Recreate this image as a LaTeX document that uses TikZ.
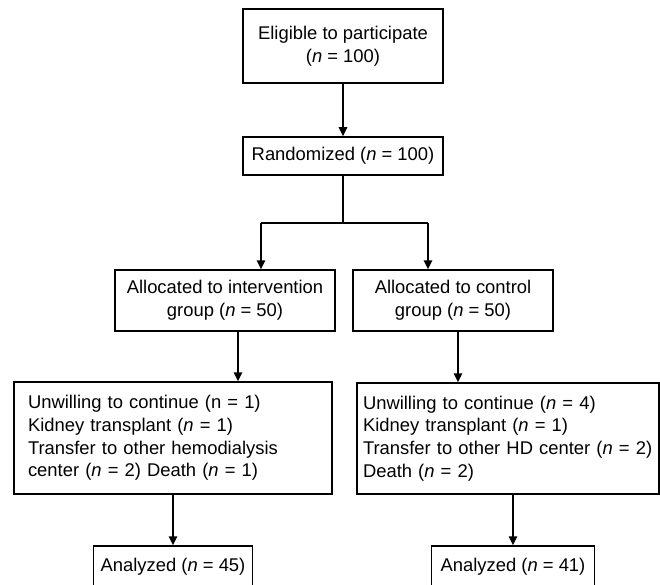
\documentclass[tikz,border=0pt]{standalone}
\usepackage{fontspec}
\setmainfont{Liberation Sans}
\usetikzlibrary{arrows.meta}

\tikzset{
	box/.style = {draw, line width = 1.5pt, inner sep = 0pt, align = center, font = \fontsize{18.4}{22.7}\selectfont},
	listbox/.style = {box, align = left},
	arrow/.style = {line width = 1.6pt, -{Triangle[length = 9pt, width = 8.5pt]}},
	link/.style = {line width = 1.6pt}
}

\begin{document}
\begin{tikzpicture}[x = 1pt, y = -1pt]
	\useasboundingbox (0, 0) rectangle (660, 585);
	\node[box, minimum width = 200pt, minimum height = 74pt] (elig) at (343, 46) {Eligible to participate\\(\textit{n} = 100)};
	\node[box, minimum width = 200pt, minimum height = 38pt] (rand) at (343, 156) {Randomized (\textit{n} = 100)};
	\node[box, minimum width = 220pt, minimum height = 61pt] (intv) at (225, 300.5) {Allocated to intervention\\group (\textit{n} = 50)};
	\node[box, minimum width = 200pt, minimum height = 61pt] (ctrl) at (453, 300.5) {Allocated to control\\group (\textit{n} = 50)};
	\node[listbox, text width = 290pt, inner xsep = 14pt, minimum height = 112pt] (dropi) at (173, 438) {Unwilling to continue (n = 1)\\Kidney transplant (\textit{n} = 1)\\Transfer to other hemodialysis\\center (\textit{n} = 2) Death (\textit{n} = 1)};
	\node[listbox, text width = 290pt, inner xsep = 6pt, minimum height = 111pt] (dropc) at (508, 438.5) {Unwilling to continue (\textit{n} = 4)\\Kidney transplant (\textit{n} = 1)\\Transfer to other HD center (\textit{n} = 2)\\Death (\textit{n} = 2)};
	\node[box, minimum width = 159pt, minimum height = 42pt] (anai) at (173, 567) {Analyzed (\textit{n} = 45)};
	\node[box, minimum width = 163pt, minimum height = 42pt] (anac) at (513, 567) {Analyzed (\textit{n} = 41)};
	\coordinate (splitl) at (261, 223);
	\coordinate (splitr) at (428, 223);
	\draw[arrow] (elig) -- (rand);
	\draw[link] (rand.south) -- (rand.south |- splitl);
	\draw[link] (splitl) -- (splitr);
	\draw[arrow] (splitl) -- (splitl |- intv.north);
	\draw[arrow] (splitr) -- (splitr |- ctrl.north);
	\draw[arrow] ([xshift = 13pt]intv.south) -- ([xshift = 13pt]intv.south |- dropi.north);
	\draw[arrow] ([xshift = 5pt]ctrl.south) -- ([xshift = 5pt]ctrl.south |- dropc.north);
	\draw[arrow] (dropi.south -| anai.north) -- (anai.north);
	\draw[arrow] (dropc.south -| anac.north) -- (anac.north);
\end{tikzpicture}
\end{document}
